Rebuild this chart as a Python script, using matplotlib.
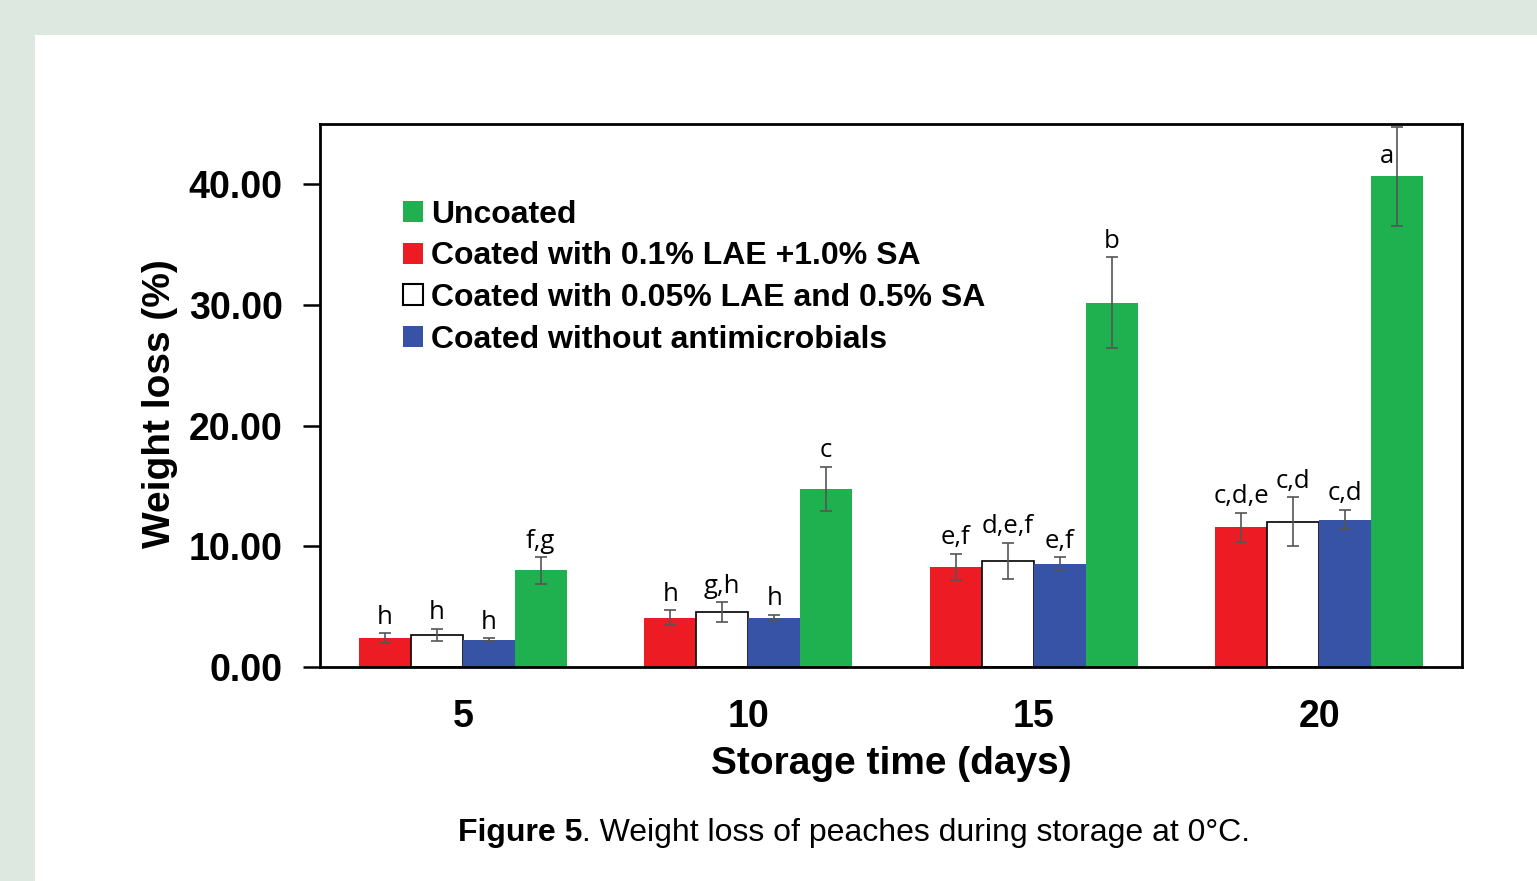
import matplotlib
matplotlib.use("Agg")
import matplotlib.pyplot as plt
from matplotlib.patches import Rectangle, Patch
import numpy as np

days = ["5", "10", "15", "20"]
series_names = ["Coated with 0.1% LAE +1.0% SA",
                "Coated with 0.05% LAE and 0.5% SA",
                "Coated without antimicrobials",
                "Uncoated"]
red_vals = [2.4, 4.1, 8.3, 11.6]
red_err = [0.4, 0.6, 1.1, 1.2]
white_vals = [2.65, 4.55, 8.8, 12.05]
white_err = [0.5, 0.8, 1.5, 2.0]
blue_vals = [2.25, 4.1, 8.55, 12.2]
blue_err = [0.12, 0.25, 0.55, 0.8]
green_vals = [8.0, 14.75, 30.2, 40.65]
green_err = [1.1, 1.85, 3.75, 4.1]
red_letters = ["h", "h", "e,f", "c,d,e"]
white_letters = ["h", "g,h", "d,e,f", "c,d"]
blue_letters = ["h", "h", "e,f", "c,d"]
green_letters = ["f,g", "c", "b", "a"]
yticks = [0, 10, 20, 30, 40]

RED = "#ed1c24"
BLUE = "#3753a5"
GREEN = "#1fb04f"
WHITE = "#ffffff"
ERRC = "#555555"

fig = plt.figure(figsize=(15.37, 8.81), dpi=100)
fig.patch.set_facecolor("#dde9e0")
fig.add_artist(Rectangle((35 / 1537, 0), 1 - 35 / 1537, 1 - 35 / 881,
                         transform=fig.transFigure, facecolor="white",
                         edgecolor="none", zorder=0))

ax = fig.add_axes([320 / 1537, (881 - 667) / 881, 1142 / 1537, 543 / 881])
ax.set_facecolor("white")

x = np.arange(len(days))
w = 0.182
offs = [-1.5 * w, -0.5 * w, 0.5 * w, 1.5 * w]
groups = [(red_vals, red_err, red_letters, RED, "none"),
          (white_vals, white_err, white_letters, WHITE, "black"),
          (blue_vals, blue_err, blue_letters, BLUE, "none"),
          (green_vals, green_err, green_letters, GREEN, "none")]
for gi, ((vals, err, letters, col, ec), off) in enumerate(zip(groups, offs)):
    ax.bar(x + off, vals, width=w, color=col, edgecolor=ec,
           linewidth=1.2 if ec != "none" else 0, zorder=2)
    ax.errorbar(x + off, vals, yerr=err, fmt="none", ecolor=ERRC,
                elinewidth=1.2, capsize=4, capthick=1.2, zorder=3)
    for j, (xi, v, e, lab) in enumerate(zip(x + off, vals, err, letters)):
        ty = v + e + 0.8
        tx = xi
        if gi == 3 and j == 3:
            # the top label sits beside its error bar, inside the frame
            ty = v + 1.1
            tx = xi - 0.035
        ax.text(tx, ty, lab, ha="center", va="baseline",
                fontsize=18.5, family="Open Sans", color="black", zorder=4)

ax.set_xlim(-0.5, 3.5)
ax.set_ylim(0, 45)
ax.set_yticks(yticks)
ax.set_yticklabels([f"{t:.2f}" for t in yticks])
ax.set_xticks(x)
ax.set_xticklabels(days)
for lab in ax.get_yticklabels() + ax.get_xticklabels():
    lab.set_fontsize(27)
    lab.set_fontweight("bold")
    lab.set_family("Liberation Sans")
ax.tick_params(axis="y", direction="out", length=12, width=1.8, pad=15)
ax.tick_params(axis="x", length=0, pad=23)
for s in ax.spines.values():
    s.set_linewidth(2)
    s.set_color("black")

ax.set_xlabel("Storage time (days)", fontsize=28, fontweight="bold",
              family="Liberation Sans", labelpad=8)
ax.set_ylabel("Weight loss (%)", fontsize=28, fontweight="bold",
              family="Liberation Sans", labelpad=8)
ax.yaxis.set_label_coords(-0.124, 0.485)

handles = [Patch(facecolor=GREEN, edgecolor="none"),
           Patch(facecolor=RED, edgecolor="none"),
           Patch(facecolor=WHITE, edgecolor="black", linewidth=1.5),
           Patch(facecolor=BLUE, edgecolor="none")]
labels = [series_names[3], series_names[0], series_names[1], series_names[2]]
leg = ax.legend(handles, labels, loc="upper left",
                bbox_to_anchor=((403 - 320) / 1142, (667 - 200) / 543), frameon=False,
                prop={"family": "Liberation Sans", "weight": "bold", "size": 23},
                handlelength=0.63, handleheight=0.63, handletextpad=0.25,
                labelspacing=0.36, borderaxespad=0, borderpad=0)

cy = 1 - 833 / 881
t1 = fig.text(458 / 1537, cy, "Figure 5", fontsize=23, fontweight="bold",
              family="Liberation Sans", va="center", ha="left")
fig.canvas.draw()
r = t1.get_window_extent(fig.canvas.get_renderer())
fig.text(r.x1 / 1537, cy, ". Weight loss of peaches during storage at 0\u00b0C.",
         fontsize=23, family="Liberation Sans", va="center", ha="left")

fig.savefig("out.png", dpi=100, facecolor=fig.get_facecolor())
